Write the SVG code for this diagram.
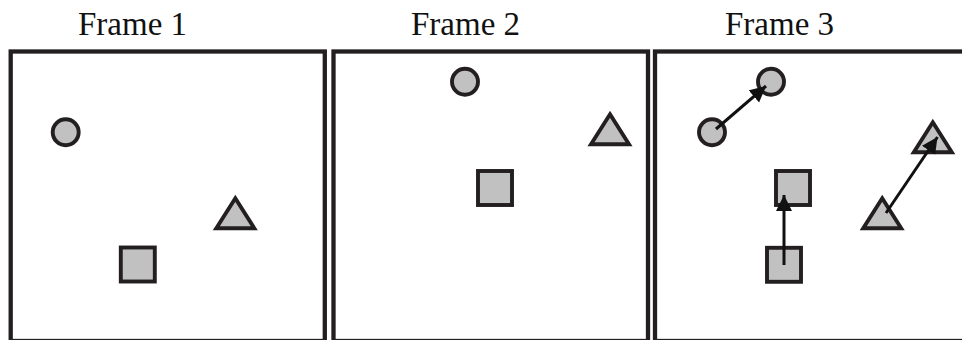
<svg xmlns="http://www.w3.org/2000/svg" xmlns:xlink="http://www.w3.org/1999/xlink" width="962" height="340" viewBox="0 0 962 340">
  <style>
    .frame { fill: #ffffff; stroke: #231f20; stroke-width: 4.3; }
    .shape { fill: #c1c1c1; stroke: #231f20; stroke-width: 3.9; stroke-linejoin: miter; }
    .title { font-family: "Liberation Serif", "Times New Roman", serif; font-size: 33px; fill: #111111; text-anchor: middle; }
    .move { fill: none; stroke: #111111; stroke-width: 3; marker-end: url(#arrow); }
  </style>
  <defs>
    <marker id="arrow" markerUnits="userSpaceOnUse" markerWidth="17" markerHeight="17" refX="16" refY="8" orient="auto">
      <path d="M0,0 L16,8 L0,16 Z" fill="#111111"/>
    </marker>
    <path id="tri" d="M0,-30 L19,0 L-19,0 Z"/>
  </defs>
  <rect width="962" height="340" fill="#ffffff"/>

  <g id="frame1">
    <rect class="frame" x="10.7" y="51.5" width="314.1" height="289.5"/>
    <text class="title" x="132.5" y="35">Frame 1</text>
  </g>
  <g id="frame2">
    <rect class="frame" x="333.5" y="51.5" width="314.5" height="289.5"/>
    <text class="title" x="465.5" y="35">Frame 2</text>
  </g>
  <g id="frame3">
    <rect class="frame" x="655" y="51.5" width="320" height="289.5"/>
    <text class="title" x="779.5" y="35">Frame 3</text>
  </g>

  <g id="f1-circle"><circle class="shape" cx="65.7" cy="132.3" r="13"/></g>
  <g id="f1-triangle"><use class="shape" xlink:href="#tri" href="#tri" x="235.3" y="228.3"/></g>
  <g id="f1-square"><rect class="shape" x="120.8" y="247.5" width="34" height="34"/></g>

  <g id="f2-circle"><circle class="shape" cx="465" cy="81.7" r="13"/></g>
  <g id="f2-triangle"><use class="shape" xlink:href="#tri" href="#tri" x="610" y="144.3"/></g>
  <g id="f2-square"><rect class="shape" x="478" y="171" width="34" height="34"/></g>

  <g id="f3-circle-old"><circle class="shape" cx="712" cy="132.3" r="13"/></g>
  <g id="f3-circle-new"><circle class="shape" cx="771" cy="81.7" r="13"/></g>
  <g id="f3-square-new"><rect class="shape" x="776" y="171" width="34" height="34"/></g>
  <g id="f3-square-old"><rect class="shape" x="767" y="247.8" width="34" height="34"/></g>
  <g id="f3-triangle-old"><use class="shape" xlink:href="#tri" href="#tri" x="882.2" y="228.3"/></g>
  <g id="f3-triangle-new"><use class="shape" xlink:href="#tri" href="#tri" x="932.8" y="152.3"/></g>

  <g id="connectors">
    <line class="move" x1="716" y1="129" x2="766" y2="86"/>
    <line class="move" x1="784" y1="265" x2="784" y2="195"/>
    <line class="move" x1="886" y1="213" x2="937.5" y2="137"/>
  </g>
</svg>
